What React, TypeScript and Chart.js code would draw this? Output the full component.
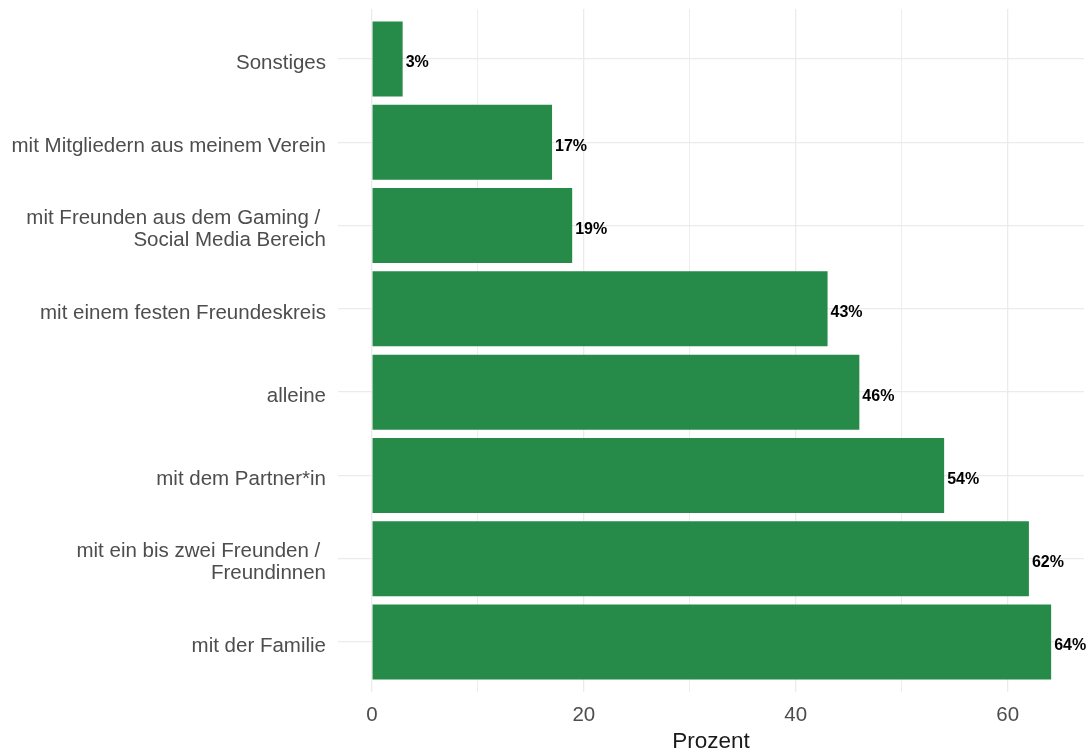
import React, { useEffect, useRef } from "react";
import { Chart, registerables } from "chart.js";

Chart.register(...registerables);

const categories: string[][] = [
  ["Sonstiges"],
  ["mit Mitgliedern aus meinem Verein"],
  ["mit Freunden aus dem Gaming / ", "Social Media Bereich"],
  ["mit einem festen Freundeskreis"],
  ["alleine"],
  ["mit dem Partner*in"],
  ["mit ein bis zwei Freunden / ", "Freundinnen"],
  ["mit der Familie"],
];
const values: number[] = [2.9, 17.0, 18.9, 43.0, 46.0, 54.0, 62.0, 64.1];
const xTicks: number[] = [0, 10, 20, 30, 40, 50, 60];
const xTickLabels: string[] = ["0", "", "20", "", "40", "", "60"];
const axisTitle = "Prozent";

const BAR_COLOR = "#268A48";
const GRID = "#EBEBEB";
const FONT = "'Liberation Sans', Arial, sans-serif";

export default function App() {
  const ref = useRef<HTMLCanvasElement | null>(null);

  useEffect(() => {
    if (!ref.current) return;
    const labelPlugin = {
      id: "valueLabels",
      afterDatasetsDraw(chart: any) {
        const ctx = chart.ctx;
        const meta = chart.getDatasetMeta(0);
        ctx.save();
        ctx.font = `bold 16px ${FONT}`;
        ctx.fillStyle = "#000000";
        ctx.textAlign = "left";
        ctx.textBaseline = "middle";
        meta.data.forEach((bar: any, i: number) => {
          ctx.fillText(`${Math.round(values[i])}%`, bar.x + 3, bar.y + 4);
        });
        ctx.restore();
      },
    };

    const chart = new Chart(ref.current, {
      type: "bar",
      data: {
        datasets: [
          {
            data: values.map((v, i) => ({ x: v, y: i })),
            backgroundColor: BAR_COLOR,
            borderWidth: 0,
            barPercentage: 0.9,
            categoryPercentage: 1.0,
          },
        ],
      },
      options: {
        indexAxis: "y",
        responsive: false,
        animation: false,
        layout: { padding: { top: 9, right: 2, left: 0, bottom: 0 } },
        plugins: {
          legend: { display: false },
          tooltip: { enabled: false },
        },
        scales: {
          x: {
            type: "linear",
            min: -3.2,
            max: 67.2,
            offset: false,
            border: { display: false },
            grid: {
              color: GRID,
              lineWidth: (c: any) => (c.tick && c.tick.value % 20 === 0 ? 1.3 : 0.9),
              drawTicks: false,
              offset: false,
            },
            afterBuildTicks: (scale: any) => {
              scale.ticks = xTicks.map((v) => ({ value: v }));
            },
            afterFit: (scale: any) => {
              scale.height = 64;
              scale.paddingLeft = 0;
              scale.paddingRight = 0;
            },
            ticks: {
              padding: 11,
              color: "#4D4D4D",
              font: { family: FONT, size: 20.5, lineHeight: 1.2 },
              callback: (_v: any, i: number) => xTickLabels[i],
              maxRotation: 0,
              autoSkip: false,
            },
            title: {
              display: true,
              text: axisTitle,
              color: "#1A1A1A",
              font: { family: FONT, size: 22.5, lineHeight: 1.0 },
              padding: { top: 0, bottom: 3 },
            },
          },
          y: {
            type: "linear",
            reverse: true,
            min: -0.6,
            max: 7.6,
            offset: false,
            border: { display: false },
            grid: { color: GRID, lineWidth: 1.3, drawTicks: false, offset: false },
            afterBuildTicks: (scale: any) => {
              scale.ticks = categories.map((_c, i) => ({ value: i }));
            },
            afterFit: (scale: any) => {
              scale.width = 338;
              scale.paddingTop = 0;
              scale.paddingBottom = 0;
            },
            ticks: {
              padding: 12,
              labelOffset: 4,
              color: "#4D4D4D",
              font: { family: FONT, size: 20.5, lineHeight: 1.08 },
              callback: (_v: any, i: number) => categories[i],
              autoSkip: false,
            },
          },
        },
      },
      plugins: [labelPlugin],
    } as any);
    return () => chart.destroy();
  }, []);

  return (
    <div style={{ position: "fixed", left: 0, top: 0, width: 1086, height: 756, background: "#ffffff" }}>
      <canvas ref={ref} width={1086} height={756} />
    </div>
  );
}
